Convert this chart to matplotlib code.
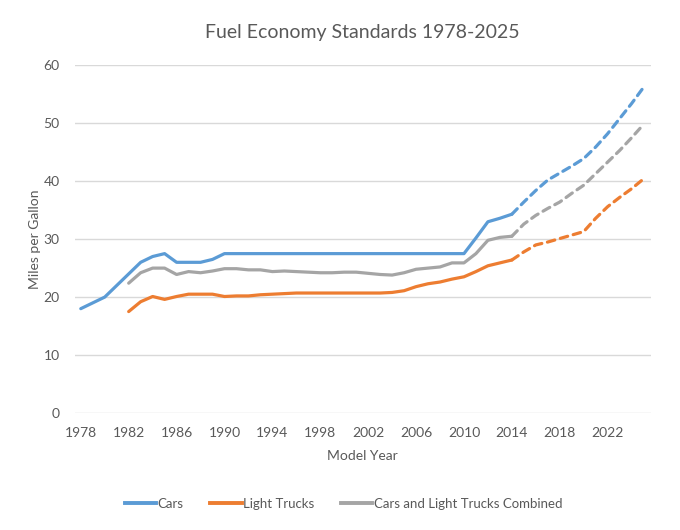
import numpy as np
import matplotlib
matplotlib.use("Agg")
import matplotlib.pyplot as plt
from matplotlib.lines import Line2D

# --- dados ---
anos = list(range(1978, 2026))

carros = [18.0, 19.0, 20.0, 22.0, 24.0, 26.0, 27.0, 27.5, 26.0, 26.0,
          26.0, 26.5, 27.5, 27.5, 27.5, 27.5, 27.5, 27.5, 27.5, 27.5,
          27.5, 27.5, 27.5, 27.5, 27.5, 27.5, 27.5, 27.5, 27.5, 27.5,
          27.5, 27.5, 27.5, 30.2, 33.0, 33.6, 34.3,
          36.4, 38.4, 40.2, 41.4, 42.6, 43.9, 45.9, 48.2, 50.8, 53.4, 56.2]

caminhoes = [None, None, None, None, 17.5, 19.2, 20.1, 19.6, 20.1, 20.5,
             20.5, 20.5, 20.1, 20.2, 20.2, 20.4, 20.5, 20.6, 20.7, 20.7,
             20.7, 20.7, 20.7, 20.7, 20.7, 20.7, 20.8, 21.1, 21.8, 22.3,
             22.6, 23.1, 23.5, 24.4, 25.4, 25.9, 26.4,
             27.8, 29.0, 29.5, 30.1, 30.7, 31.3, 33.6, 35.6, 37.2, 38.7, 40.4]

combinado = [None, None, None, None, 22.4, 24.2, 25.0, 25.0, 23.9, 24.4,
             24.2, 24.5, 24.9, 24.9, 24.7, 24.7, 24.4, 24.5, 24.4, 24.3,
             24.2, 24.2, 24.3, 24.3, 24.1, 23.9, 23.8, 24.2, 24.8, 25.0,
             25.2, 25.9, 25.9, 27.5, 29.8, 30.3, 30.5,
             32.6, 34.1, 35.3, 36.4, 37.9, 39.3, 41.3, 43.3, 45.3, 47.5, 49.8]

ano_corte = 2014  # a partir daqui: linha tracejada (projecao)
ticks_x = list(range(1978, 2023, 4))

series = [
    ("Cars", carros, "#5b9bd5"),
    ("Light Trucks", caminhoes, "#ed7d31"),
    ("Cars and Light Trucks Combined", combinado, "#a5a5a5"),
]

COR_TEXTO = "#595959"
plt.rcParams['font.family'] = ['Lato', 'DejaVu Sans']

fig = plt.figure(figsize=(6.8, 5.3), dpi=100)
ax = fig.add_axes([0.110, 0.2208, 0.847, 0.656])

x = np.array(anos)
for nome, valores, cor in series:
    y = np.array([np.nan if v is None else v for v in valores], dtype=float)
    solido = x <= ano_corte
    tracejado = x >= ano_corte
    ax.plot(x[solido], y[solido], color=cor, linewidth=2.3,
            solid_capstyle='round', solid_joinstyle='round', zorder=3)
    ax.plot(x[tracejado], y[tracejado], color=cor, linewidth=2.3,
            dashes=(2.4, 1.8), dash_capstyle='round', zorder=3)

ax.set_xlim(1977.5, 2025.6)
ax.set_ylim(0, 60)
ax.set_yticks(range(0, 61, 10))
ax.set_xticks(ticks_x)
ax.grid(axis='y', color='#d9d9d9', linewidth=1)
ax.set_axisbelow(True)
for s in ax.spines.values():
    s.set_visible(False)
ax.tick_params(length=0, colors=COR_TEXTO, labelsize=10)
ax.tick_params(axis='x', pad=10)
ax.tick_params(axis='y', pad=11)

ax.set_title("Fuel Economy Standards 1978-2025", fontsize=14, color=COR_TEXTO, pad=20)
ax.set_xlabel("Model Year", fontsize=10, color=COR_TEXTO, labelpad=8)
ax.set_ylabel("Miles per Gallon", fontsize=10, color=COR_TEXTO, labelpad=2)

handles = [Line2D([0], [0], color=cor, linewidth=2.8) for _, _, cor in series]
fig.legend(handles, [n for n, _, _ in series], loc='center', bbox_to_anchor=(0.505, 0.05),
           ncol=3, frameon=False, fontsize=9.5, labelcolor=COR_TEXTO,
           handlelength=2.4, handletextpad=0.1, columnspacing=2.0)

fig.savefig("out.png", dpi=100)
